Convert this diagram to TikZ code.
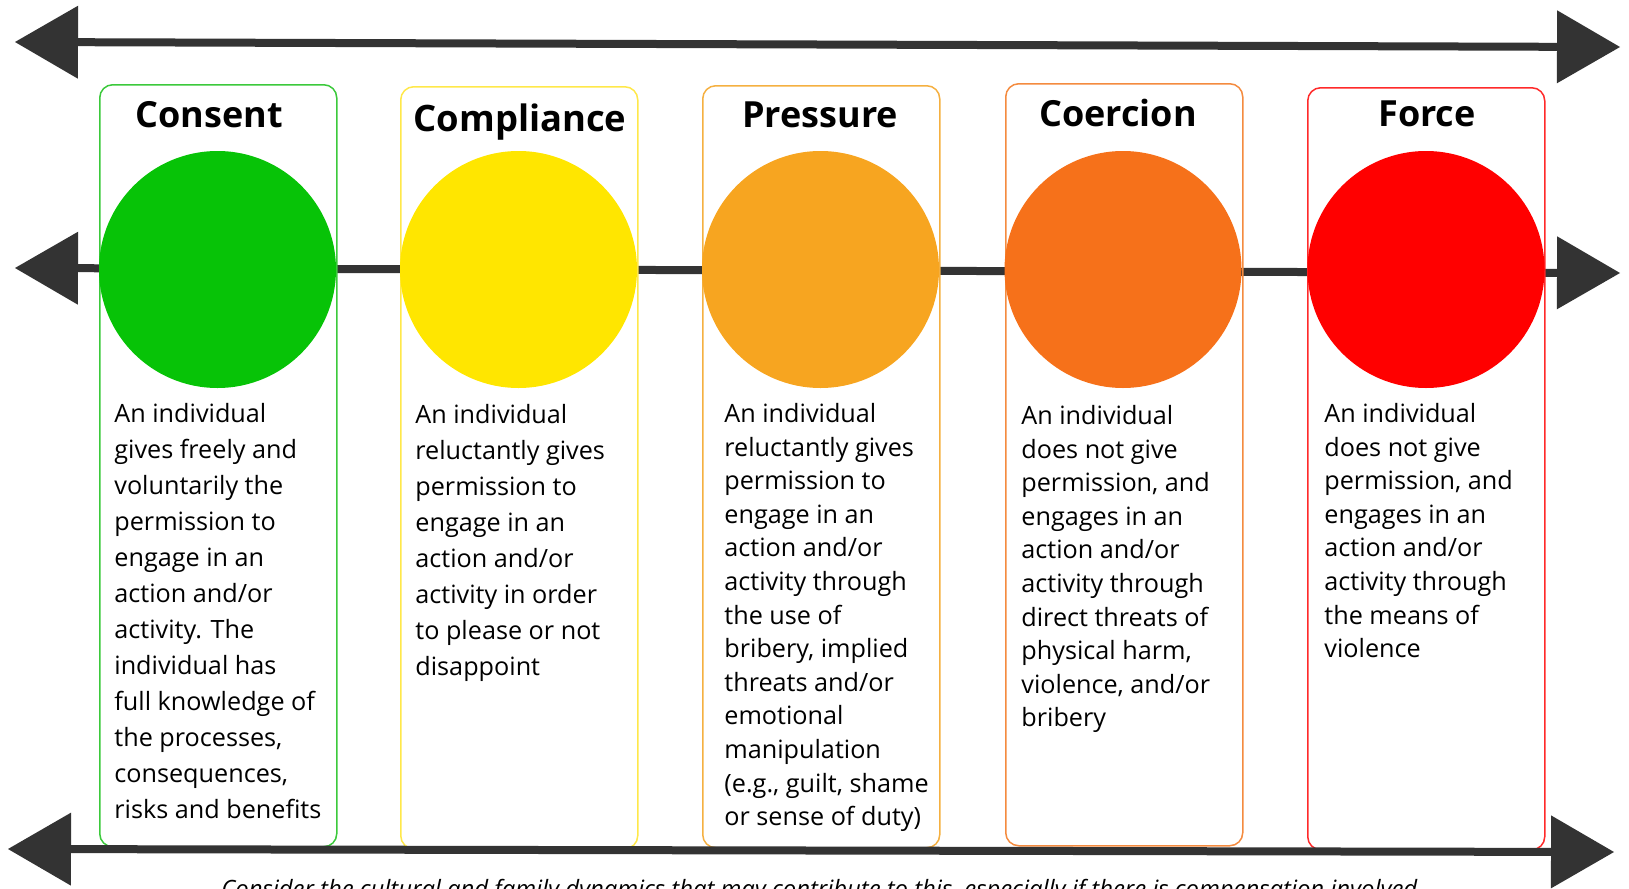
\documentclass[tikz,border=0pt]{standalone}
\usepackage{fontspec}
\usepackage{graphicx}
\setmainfont{Open Sans}
\usetikzlibrary{arrows.meta, positioning}
\definecolor{axisGray}{HTML}{333333}
\definecolor{consentFill}{HTML}{07C307}
\definecolor{consentLine}{HTML}{3BC93B}
\definecolor{complianceFill}{HTML}{FFE600}
\definecolor{complianceLine}{HTML}{FFE84A}
\definecolor{pressureFill}{HTML}{F7A520}
\definecolor{pressureLine}{HTML}{F5B041}
\definecolor{coercionFill}{HTML}{F6711A}
\definecolor{coercionLine}{HTML}{F48B3F}
\definecolor{forceFill}{HTML}{FF0000}
\definecolor{forceLine}{HTML}{FF2A2A}
\tikzset{axis/.style={line width=4pt, draw=axisGray, {Triangle[length=31.5pt, width=36.5pt, line width=0pt]}-{Triangle[length=31.5pt, width=36.5pt, line width=0pt]}}, stageBox/.style={rectangle, draw, line width=0.75pt, rounded corners=6.5pt, inner sep=0pt, minimum width=118.5pt, minimum height=381pt, anchor=north west}, stageDot/.style={circle, inner sep=0pt, minimum size=118.5pt}, stageTitle/.style={font=\bfseries\fontsize{18}{18}\selectfont, anchor=base, inner sep=0pt}}
\tikzstyle{stageText}=[align=left, anchor=north west, inner sep=0pt]

\begin{document}
\begin{tikzpicture}[x=0.5pt, y=-0.5pt]
\useasboundingbox (0, 0) rectangle (1629, 889);
\clip (0, 0) rectangle (1629, 889);
\coordinate (topL) at (15, 42);
\coordinate (topR) at (1620, 47);
\coordinate (midL) at (15, 268);
\coordinate (midR) at (1620, 273);
\coordinate (lowL) at (8, 849);
\coordinate (lowR) at (1614, 852);
\draw[axis] (topL) -- (topR);
\draw[axis] (midL) -- (midR);
\node[stageBox, draw=consentLine] (consentBox) at (99, 84) {};
\node[stageBox, draw=complianceLine] (complianceBox) at (400, 86) {};
\node[stageBox, draw=pressureLine] (pressureBox) at (702, 85) {};
\node[stageBox, draw=coercionLine] (coercionBox) at (1005, 83) {};
\node[stageBox, draw=forceLine] (forceBox) at (1307, 87) {};
\node[stageDot, fill=consentFill] (consentDot) at (217.5, 269.5) {};
\node[stageDot, fill=complianceFill] (complianceDot) at (518.5, 269.5) {};
\node[stageDot, fill=pressureFill] (pressureDot) at (820.5, 269.5) {};
\node[stageDot, fill=coercionFill] (coercionDot) at (1123, 269.5) {};
\node[stageDot, fill=forceFill] (forceDot) at (1426, 269.5) {};
\node[stageTitle] (consent-title) at (209, 127) {Consent};
\node[stageTitle, font=\bfseries\fontsize{18.2}{18.2}\selectfont] (compliance-title) at (520, 131) {Compliance};
\node[stageTitle] (pressure-title) at (820, 127) {Pressure};
\node[stageTitle] (coercion-title) at (1118, 126) {Coercion};
\node[stageTitle] (force-title) at (1427, 126) {Force};
\node[stageText, font=\fontsize{12.6}{18}\selectfont] (consent-text) at (114, 403) {An individual\\gives freely and\\voluntarily the\\permission to\\engage in an\\action and/or\\activity. The\\individual has\\full knowledge of\\the processes,\\consequences,\\risks and benefits};
\node[stageText, font=\fontsize{12.6}{18}\selectfont] (compliance-text) at (415, 404) {An individual\\reluctantly gives\\permission to\\engage in an\\action and/or\\activity in order\\to please or not\\disappoint};
\node[stageText, font=\fontsize{12.6}{16.8}\selectfont] (pressure-text) at (724, 403) {An individual\\reluctantly gives\\permission to\\engage in an\\action and/or\\activity through\\the use of\\bribery, implied\\threats and/or\\emotional\\manipulation\\(e.g., guilt, shame\\or sense of duty)};
\node[stageText, font=\fontsize{12.6}{16.8}\selectfont] (coercion-text) at (1021, 405) {An individual\\does not give\\permission, and\\engages in an\\action and/or\\activity through\\direct threats of\\physical harm,\\violence, and/or\\bribery};
\node[stageText, font=\fontsize{12.6}{16.8}\selectfont] (force-text) at (1324, 403) {An individual\\does not give\\permission, and\\engages in an\\action and/or\\activity through\\the means of\\violence};
\draw[axis] (lowL) -- (lowR);
\node[anchor=base west, inner sep=0pt] (context-note) at (221, 897) {\resizebox{601pt}{!}{\fontsize{12.5}{15}\selectfont\itshape Consider the cultural and family dynamics that may contribute to this, especially if there is compensation involved.}};
\end{tikzpicture}
\end{document}
